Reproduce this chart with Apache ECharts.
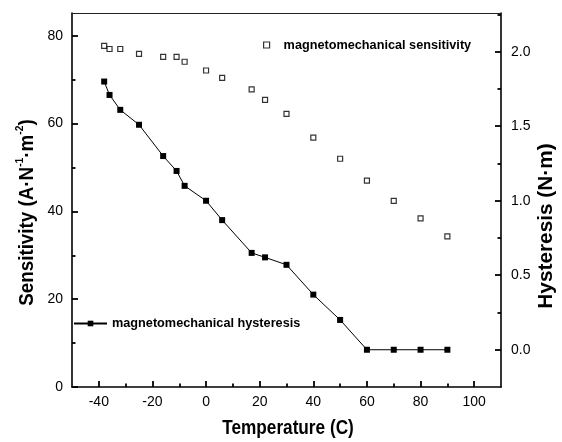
<!DOCTYPE html>
<html>
<head>
<meta charset="utf-8">
<script src="https://cdn.jsdelivr.net/npm/echarts@6/dist/echarts.min.js"></script>
<style>
  html, body { margin: 0; padding: 0; background: #fff; }
  #chart { width: 562px; height: 442px; }
</style>
</head>
<body>
<div id="chart"></div>
<script>
// Measurement temperatures (°C)
const temperature = [-38, -36, -32, -25, -16, -11, -8, 0, 6, 17, 22, 30, 40, 50, 60, 70, 80, 90];
// Magnetomechanical sensitivity (A·N^-1·m^-2), left axis
const sensitivity = [77.7, 77.0, 77.0, 75.9, 75.2, 75.2, 74.1, 72.1, 70.4, 67.8, 65.4, 62.2, 56.8, 52.0, 47.0, 42.4, 38.4, 34.3];
// Magnetomechanical hysteresis (N·m), right axis
const hysteresis = [1.80, 1.71, 1.61, 1.51, 1.30, 1.20, 1.10, 1.00, 0.87, 0.65, 0.62, 0.57, 0.37, 0.20, 0, 0, 0, 0];

// Tick positions
const xMajorTicks = [-40, -20, 0, 20, 40, 60, 80, 100];
const xMinorTicks = [-30, -10, 10, 30, 50, 70, 90];
const sensMajorTicks = [0, 20, 40, 60, 80];
const sensMinorTicks = [10, 30, 50, 70];
const hystMajorTicks = [0, 0.5, 1.0, 1.5, 2.0];
const hystMinorTicks = [0.25, 0.75, 1.25, 1.75, 2.25];

const seriesNames = ['magnetomechanical sensitivity', 'magnetomechanical hysteresis'];

const FONT = '"Liberation Sans", Arial, Helvetica, sans-serif';
const TICK_COLOR = '#000';

const X_RANGE = [-50, 110];
const SENS_RANGE = [0, 85.2];
const HYST_RANGE = [-0.25, 2.26];

const chart = echarts.init(document.getElementById('chart'), null, { renderer: 'canvas' });

// Axis with its line, major inward ticks and tick labels
function majorAxis(base, ticks, labelFmt, margin) {
  return Object.assign({
    type: 'value',
    axisLine: { show: true, onZero: false, lineStyle: { color: '#000', width: 1.6 } },
    axisTick: { show: true, inside: true, length: 6, customValues: ticks, lineStyle: { color: TICK_COLOR, width: 1.8 } },
    axisLabel: { show: true, customValues: ticks, formatter: labelFmt, margin: margin,
                 color: '#000', fontFamily: FONT, fontSize: 14 },
    splitLine: { show: false }
  }, base);
}
// Overlay axis carrying only the short minor ticks (its own line is invisible)
function minorAxis(base, ticks) {
  return Object.assign({
    type: 'value',
    axisLine: { show: true, onZero: false, lineStyle: { color: '#000', opacity: 0 } },
    axisTick: { show: true, inside: true, length: 3.5, customValues: ticks, lineStyle: { color: TICK_COLOR, width: 1.8 } },
    axisLabel: { show: false },
    splitLine: { show: false }
  }, base);
}

const legendText = { color: '#000', fontFamily: FONT, fontWeight: 'bold', fontSize: 12.7 };

const xBase = () => ({ position: 'bottom', min: X_RANGE[0], max: X_RANGE[1] });
const sensBase = () => ({ position: 'left', min: SENS_RANGE[0], max: SENS_RANGE[1] });
const hystBase = () => ({ position: 'right', min: HYST_RANGE[0], max: HYST_RANGE[1] });

const option = {
  animation: false,
  backgroundColor: '#fff',
  grid: { left: 72, right: 61, top: 13, bottom: 55 },
  xAxis: [
    majorAxis(xBase(), xMajorTicks, v => String(v), 8),
    minorAxis(xBase(), xMinorTicks),
    // top frame line
    {
      type: 'value', position: 'top', min: X_RANGE[0], max: X_RANGE[1],
      axisLine: { show: true, onZero: false, lineStyle: { color: '#222', width: 1 } },
      axisTick: { show: false }, axisLabel: { show: false }, splitLine: { show: false }
    }
  ],
  yAxis: [
    majorAxis(sensBase(), sensMajorTicks, v => String(v), 9),
    majorAxis(hystBase(), hystMajorTicks, v => v.toFixed(1), 10),
    minorAxis(sensBase(), sensMinorTicks),
    minorAxis(hystBase(), hystMinorTicks)
  ],
  legend: [
    {
      data: [seriesNames[0]], left: 263, top: 38.5, padding: 0, itemWidth: 6, itemHeight: 6,
      icon: 'rect',
      itemStyle: { color: '#fff', borderColor: '#000', borderWidth: 1.2 },
      textStyle: Object.assign({ padding: [0, 0, 0, 9] }, legendText)
    },
    {
      data: [seriesNames[1]], left: 73, top: 317, padding: 0, itemWidth: 33, itemHeight: 7,
      textStyle: legendText
    }
  ],
  series: [
    {
      name: seriesNames[0], type: 'scatter', xAxisIndex: 0, yAxisIndex: 0,
      symbol: 'rect', symbolSize: 5,
      itemStyle: { color: '#fff', borderColor: '#000', borderWidth: 1.2 },
      data: temperature.map((t, i) => [t, sensitivity[i]])
    },
    {
      name: seriesNames[1], type: 'line', xAxisIndex: 0, yAxisIndex: 1,
      symbol: 'rect', symbolSize: 6, showSymbol: true,
      lineStyle: { color: '#000', width: 1 },
      itemStyle: { color: '#000' },
      data: temperature.map((t, i) => [t, hysteresis[i]])
    }
  ],
  graphic: [
    {
      type: 'text', x: 288, y: 428, scaleX: 0.86,
      style: { text: 'Temperature (C)', font: 'bold 20px ' + FONT, fill: '#000',
               align: 'center', verticalAlign: 'middle', textAlign: 'center', textVerticalAlign: 'middle' }
    },
    {
      type: 'text', x: 27, y: 212.5, rotation: Math.PI / 2, scaleX: 0.94,
      style: {
        text: 'Sensitivity (A·N{sup|-1}·m{sup|-2})',
        font: 'bold 20px ' + FONT, fill: '#000', lineHeight: 26,
        align: 'center', verticalAlign: 'middle', textAlign: 'center', textVerticalAlign: 'middle',
        rich: { sup: { fontSize: 11, fontWeight: 'bold', fontFamily: FONT, fill: '#000', verticalAlign: 'top', lineHeight: 12 } }
      }
    },
    {
      type: 'text', x: 546, y: 226, rotation: Math.PI / 2, scaleX: 1.04,
      style: { text: 'Hysteresis (N·m)', font: 'bold 20px ' + FONT, fill: '#000',
               align: 'center', verticalAlign: 'middle', textAlign: 'center', textVerticalAlign: 'middle' }
    }
  ]
};

chart.setOption(option);
</script>
</body>
</html>
